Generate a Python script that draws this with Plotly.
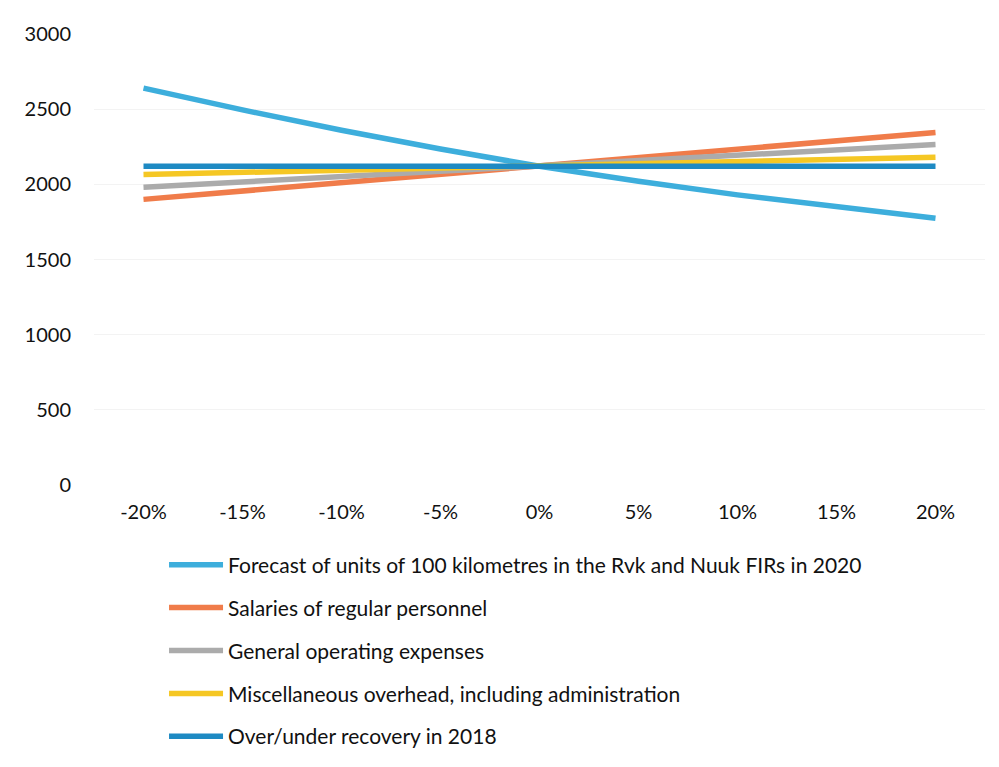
import plotly.graph_objects as go

categories = ["-20%", "-15%", "-10%", "-5%", "0%", "5%", "10%", "15%", "20%"]

forecast_units = [2640, 2495, 2360, 2235, 2120, 2020, 1930, 1850, 1775]
salaries = [1900, 1955, 2010, 2065, 2120, 2175, 2230, 2290, 2345]
general_opex = [1980, 2015, 2050, 2085, 2120, 2155, 2190, 2225, 2265]
misc_overhead = [2065, 2080, 2095, 2110, 2120, 2135, 2150, 2165, 2180]
over_under_2018 = [2120, 2120, 2120, 2120, 2120, 2120, 2120, 2120, 2120]

series = [
    ("Forecast of units of 100 kilometres in the Rvk and Nuuk FIRs in 2020", forecast_units, "#3DAEDC"),
    ("Salaries of regular personnel", salaries, "#F07C4A"),
    ("General operating expenses", general_opex, "#ABABAB"),
    ("Miscellaneous overhead, including administration", misc_overhead, "#F5C724"),
    ("Over/under recovery in 2018", over_under_2018, "#1E8AC3"),
]

y_ticks = [0, 500, 1000, 1500, 2000, 2500, 3000]

fig = go.Figure()
for i, (name, vals, color) in enumerate(series):
    fig.add_trace(go.Scatter(
        x=categories, y=vals, mode="lines", name=name,
        line=dict(color=color, width=5.5), legendgroup=f"g{i}",
    ))

font_family = "Lato, Open Sans, sans-serif"

fig.update_layout(
    width=999, height=767,
    margin=dict(l=94, r=14, t=34, b=282, autoexpand=False),
    paper_bgcolor="white", plot_bgcolor="white",
    font=dict(family=font_family, size=20, color="#111111"),
    showlegend=True,
    legend=dict(
        orientation="v", x=0.0786, xanchor="left", y=-0.132, yanchor="top",
        font=dict(size=21, color="#111111"), tracegroupgap=12.6, itemwidth=54,
        bgcolor="rgba(0,0,0,0)",
    ),
    xaxis=dict(
        type="category", showgrid=False, zeroline=False, showline=False,
        ticks="", ticklabelstandoff=13, range=[-0.5, 8.5],
    ),
    yaxis=dict(
        range=[0, 3000], tickvals=y_ticks, showgrid=True, gridcolor="#F3F3F3",
        gridwidth=1, zeroline=False, showline=False, ticks="", ticklabelstandoff=22,
    ),
)

fig.write_html("out.html")
